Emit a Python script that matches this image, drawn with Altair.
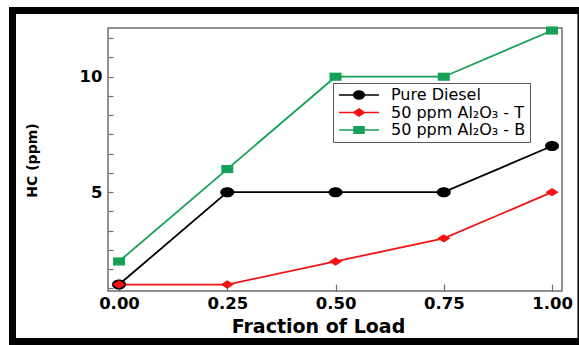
import altair as alt
import pandas as pd

# Hydrocarbon emissions versus engine load fraction
load = [0.0, 0.25, 0.5, 0.75, 1.0]
pure_diesel = [1, 5, 5, 5, 7]
al2o3_t = [1, 1, 2, 3, 5]
al2o3_b = [2, 6, 10, 10, 12]

series_names = ["Pure Diesel", "50 ppm Al₂O₃ - T", "50 ppm Al₂O₃ - B"]
series_colors = ["#000000", "#f01414", "#17a058"]

x_ticks = [0.0, 0.25, 0.5, 0.75, 1.0]
y_ticks = [0.833, 1.667, 2.5, 3.333, 4.167, 5, 5.833, 6.667, 7.5, 8.333,
           9.167, 10, 10.833, 11.667]

# marker outlines (circle, diamond, box) for the plotted points
marker_paths = [
    "M1,0A1,0.72,0,1,1,-1,0A1,0.72,0,1,1,1,0Z",
    "M0,-0.6L0.95,0L0,0.6L-0.95,0Z",
    "M-0.86,-0.58H0.86V0.58H-0.86Z",
]
# legend glyphs: a 40px line segment with the marker in its middle
# (unit = 6px at symbol size 144; the glyph runs from -1 to 5.67)
legend_paths = [
    "M-1,0H5.67M3.2,0A0.87,0.67,0,1,1,1.46,0A0.87,0.67,0,1,1,3.2,0Z",
    "M-1,0H5.67M2.33,-0.58L3.2,0L2.33,0.58L1.46,0Z",
    "M-1,0H5.67M1.5,-0.55H3.16V0.55H1.5Z",
]

rows = []
for name, vals in zip(series_names, [pure_diesel, al2o3_t, al2o3_b]):
    for x, y in zip(load, vals):
        rows.append({"series": name, "load": x, "hc": y})
df = pd.DataFrame(rows)

x_enc = alt.X(
    "load:Q",
    scale=alt.Scale(domain=[-0.0254, 1.023], nice=False, zero=False),
    axis=alt.Axis(
        values=x_ticks, format=".2f", title="Fraction of Load",
        labelFlush=False, labelPadding=11, titleX=210, titleY=35,
        titleAlign="center", titleBaseline="middle",
        titleFont="DejaVu Sans", titleFontSize=19, titleFontWeight="bold",
        tickSize=alt.ExprRef(expr="-7"),
    ),
)
y_enc = alt.Y(
    "hc:Q",
    scale=alt.Scale(domain=[0.72, 12.11], nice=False, zero=False),
    axis=alt.Axis(
        values=y_ticks, format=".0f",
        labelExpr="datum.value == 5 || datum.value == 10 ? datum.label : ''",
        labelOverlap=False, labelPadding=11, labelBaseline="middle",
        title="HC (ppm)", titleX=-76, titleY=132, titleAngle=270,
        titleAlign="center", titleBaseline="middle",
        titleFont="DejaVu Sans", titleFontSize=14, titleFontWeight="bold",
        tickSize=alt.ExprRef(expr="-5"),
    ),
)

base = alt.Chart(df)

lines = base.mark_line(strokeWidth=1.8).encode(
    x=x_enc, y=y_enc,
    color=alt.Color("series:N", scale=alt.Scale(domain=series_names, range=series_colors), legend=None),
    detail="series:N",
)

points = base.mark_point(filled=True, opacity=1, size=196).encode(
    x=x_enc, y=y_enc,
    color=alt.Color("series:N", scale=alt.Scale(domain=series_names, range=series_colors), legend=None),
    shape=alt.Shape("series:N", scale=alt.Scale(domain=series_names, range=marker_paths), legend=None),
)

legend_def = alt.Legend(
    orient="none", legendX=225, legendY=55, title=None,
    labelFont="DejaVu Sans", labelFontSize=16, labelColor="black",
    symbolSize=144, symbolStrokeWidth=1.6, symbolOpacity=1, labelOffset=38,
    strokeColor="#5a5a5a", fillColor="white", padding=4, rowPadding=1.5,
)

legend_layer = base.transform_filter("false").mark_point(
    filled=True, opacity=1, size=144, strokeWidth=1.6
).encode(
    x=x_enc, y=y_enc,
    fill=alt.Fill("series:N", scale=alt.Scale(domain=series_names, range=series_colors), legend=legend_def),
    stroke=alt.Stroke("series:N", scale=alt.Scale(domain=series_names, range=series_colors), legend=legend_def),
    shape=alt.Shape("series:N", scale=alt.Scale(domain=series_names, range=legend_paths), legend=legend_def),
)

frame = alt.Chart(pd.DataFrame({"k": [0]})).mark_rect(
    fillOpacity=0, stroke="black", strokeWidth=7
).encode(
    x=alt.value(-95.5), x2=alt.value(473), y=alt.value(-17.5), y2=alt.value(313.5)
)

chart = alt.layer(frame, lines, points, legend_layer).resolve_scale(
    shape="independent", fill="independent", stroke="independent"
).properties(
    width=454, height=263,
    autosize=alt.AutoSizeParams(type="none"),
    padding={"left": 108, "top": 28, "right": 17, "bottom": 54},
    background="white",
).configure_view(
    stroke="#6e6e6e", strokeWidth=1.5
).configure_axis(
    domain=False, grid=False, tickColor="#6e6e6e", tickWidth=1.2,
    labelFont="DejaVu Sans", labelFontWeight="bold", labelFontSize=16.5,
    labelColor="black", titleColor="black",
)

chart.save("out.html", embed_options={"renderer": "svg", "actions": False})
